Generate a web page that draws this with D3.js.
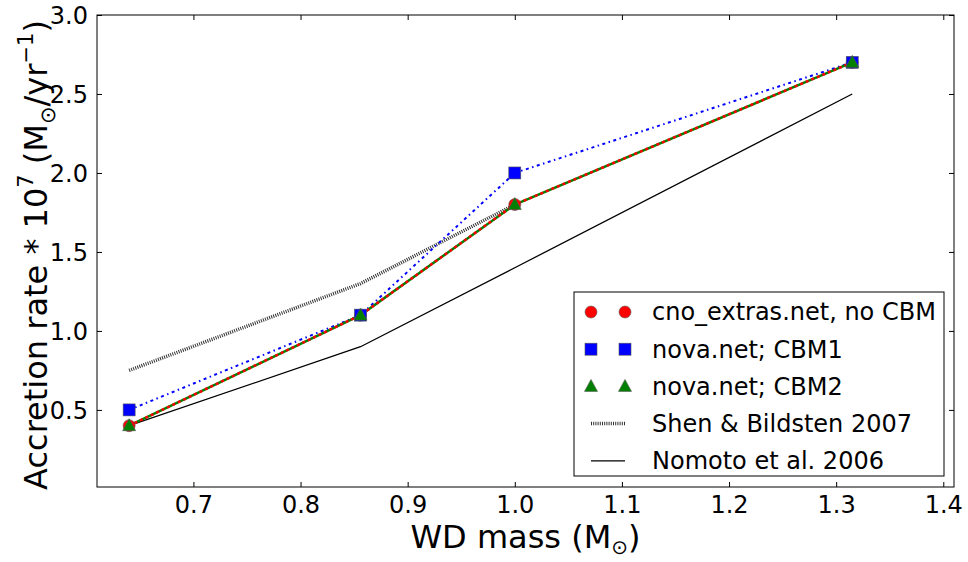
<!DOCTYPE html>
<html><head><meta charset="utf-8">
<script src="https://cdn.jsdelivr.net/npm/d3@7"></script>
<style>body{margin:0;background:#fff}svg{font-family:"DejaVu Sans",sans-serif}</style>
</head><body>
<script>
const masses = [0.64, 0.856, 1.0, 1.315];
const cnoExtras = [0.4, 1.1, 1.8, 2.7];
const novaCBM1 = [0.5, 1.1, 2.0, 2.7];
const novaCBM2 = [0.4, 1.1, 1.8, 2.7];
const shenMass = [0.64, 0.856, 1.0];
const shenRate = [0.75, 1.3, 1.8];
const nomotoMass = [0.64, 0.856, 1.0, 1.315];
const nomotoRate = [0.4, 0.9, 1.4, 2.5];
const xTicks = [0.7, 0.8, 0.9, 1.0, 1.1, 1.2, 1.3, 1.4];
const yTicks = [0.5, 1.0, 1.5, 2.0, 2.5, 3.0];
const legendLabels = ["cno_extras.net, no CBM", "nova.net; CBM1", "nova.net; CBM2", "Shen & Bildsten 2007", "Nomoto et al. 2006"];

const W = 968, H = 562;
const L = 97, R = 954, T = 15, B = 487;
const svg = d3.select("body").append("svg").attr("width", W).attr("height", H);
const x = d3.scaleLinear().domain([0.61, 1.41]).range([L, R]);
const y = d3.scaleLinear().domain([0.012, 3.0]).range([B, T]);

svg.append("clipPath").attr("id","c").append("rect").attr("x",L).attr("y",T).attr("width",R-L).attr("height",B-T);
const g = svg.append("g").attr("clip-path","url(#c)");
const line = d3.line().x(d=>x(d[0])).y(d=>y(d[1]));
const zip = (a,b)=>a.map((v,i)=>[v,b[i]]);

g.append("path").attr("d", line(zip(nomotoMass, nomotoRate))).attr("fill","none").attr("stroke","#000").attr("stroke-width",1.3);
g.append("path").attr("d", line(zip(shenMass, shenRate))).attr("fill","none").attr("stroke","#333").attr("stroke-width",3.5).attr("stroke-dasharray","1,1.2");
g.append("path").attr("d", line(zip(masses, novaCBM1))).attr("fill","none").attr("stroke","#0000ff").attr("stroke-width",2).attr("stroke-dasharray","3,3.5,1.5,3.5");
g.append("path").attr("d", line(zip(masses, novaCBM2))).attr("fill","none").attr("stroke","#008000").attr("stroke-width",2.5);
g.append("path").attr("d", line(zip(masses, cnoExtras))).attr("fill","none").attr("stroke","#ff0000").attr("stroke-width",2.5).attr("stroke-dasharray","3,3");

const circ = (sel, cx, cy) => sel.append("circle").attr("cx",cx).attr("cy",cy).attr("r",6).attr("fill","#ff0000").attr("stroke","#555").attr("stroke-width",0.6);
const sq = (sel, cx, cy) => sel.append("rect").attr("x",cx-6).attr("y",cy-6).attr("width",12).attr("height",12).attr("fill","#0000ff").attr("stroke","#555").attr("stroke-width",0.6);
const tri = (sel, cx, cy) => sel.append("path").attr("d",`M${cx},${cy-7}L${cx+6.5},${cy+5}L${cx-6.5},${cy+5}Z`).attr("fill","#008000").attr("stroke","#555").attr("stroke-width",0.6);

const mg = svg.append("g");
masses.forEach((m,i)=>circ(mg, x(m), y(cnoExtras[i])));
masses.forEach((m,i)=>sq(mg, x(m), y(novaCBM1[i])));
masses.forEach((m,i)=>tri(mg, x(m), y(novaCBM2[i])));

svg.append("rect").attr("x",L).attr("y",T).attr("width",R-L).attr("height",B-T).attr("fill","none").attr("stroke","#000").attr("stroke-width",1);

const xa = svg.append("g").attr("transform",`translate(0,${B})`).call(d3.axisBottom(x).tickValues(xTicks).tickFormat(d3.format(".1f")).tickSizeInner(-5).tickSizeOuter(0).tickPadding(9));
const xt = svg.append("g").attr("transform",`translate(0,${T})`).call(d3.axisTop(x).tickValues(xTicks).tickFormat("").tickSizeInner(-5).tickSizeOuter(0));
const ya = svg.append("g").attr("transform",`translate(${L},0)`).call(d3.axisLeft(y).tickValues(yTicks).tickFormat(d3.format(".1f")).tickSizeInner(-5).tickSizeOuter(0).tickPadding(9));
const yr = svg.append("g").attr("transform",`translate(${R},0)`).call(d3.axisRight(y).tickValues(yTicks).tickFormat("").tickSizeInner(-5).tickSizeOuter(0));
[xa,xt,ya,yr].forEach(a=>{a.select(".domain").remove();a.selectAll("line").attr("stroke","#000");a.selectAll("text").attr("font-size",24).attr("fill","#000").attr("font-family","DejaVu Sans");});
ya.selectAll("text").attr("dy","0.36em");
xa.selectAll("text").attr("dy","0.71em");

const xl = svg.append("text").attr("x",(L+R)/2).attr("y",548).attr("text-anchor","middle").attr("font-size",32);
xl.append("tspan").text("WD mass (M");
xl.append("tspan").attr("font-size",20).attr("dy",6).text("⊙");
xl.append("tspan").attr("dy",-6).text(")");

const yl = svg.append("text").attr("transform",`translate(47,${(T+B)/2 + 4}) rotate(-90)`).attr("text-anchor","middle").attr("font-size",32);
yl.append("tspan").text("Accretion rate * 10");
yl.append("tspan").attr("font-size",21).attr("dy",-14).text("7");
yl.append("tspan").attr("dy",14).text(" (M");
yl.append("tspan").attr("font-size",21).attr("dy",8).text("⊙");
yl.append("tspan").attr("dy",-8).text("/yr");
yl.append("tspan").attr("font-size",21).attr("dy",-14).text("−1");
yl.append("tspan").attr("dy",14).text(")");

const lg = svg.append("g");
lg.append("rect").attr("x",574).attr("y",292).attr("width",370).attr("height",184).attr("fill","#fff").attr("stroke","#000").attr("stroke-width",1);
const rowY = i => 312 + i*37.2;
legendLabels.forEach((t,i)=>{
  const yy = rowY(i);
  if(i===0){circ(lg,591,yy);circ(lg,625,yy);}
  if(i===1){sq(lg,591,yy);sq(lg,625,yy);}
  if(i===2){tri(lg,591,yy);tri(lg,625,yy);}
  if(i===3){lg.append("line").attr("x1",591).attr("x2",625).attr("y1",yy).attr("y2",yy).attr("stroke","#333").attr("stroke-width",3.5).attr("stroke-dasharray","1,1.2");}
  if(i===4){lg.append("line").attr("x1",591).attr("x2",625).attr("y1",yy).attr("y2",yy).attr("stroke","#000").attr("stroke-width",1.3);}
  lg.append("text").attr("x",652).attr("y",yy).attr("dy","0.35em").attr("font-size",24).text(t);
});
</script>
</body></html>
